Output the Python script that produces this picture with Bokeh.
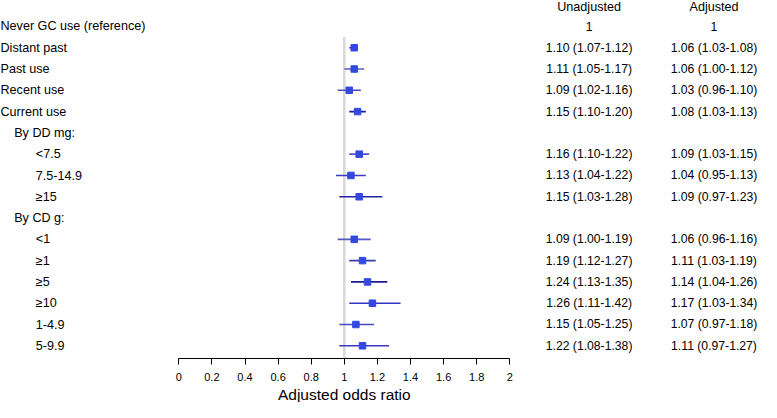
from bokeh.plotting import figure
from bokeh.models import Range1d, FixedTicker, ColumnDataSource, Title
from bokeh.embed import file_html
from bokeh.resources import INLINE
from bokeh.core.properties import value

# ---- data ----
labels = ["Never GC use (reference)", "Distant past", "Past use", "Recent  use", "Current use",
          "By DD mg:", "<7.5", "7.5-14.9", "≥15",
          "By CD g:", "<1", "≥1", "≥5", "≥10", "1-4.9", "5-9.9"]
levels = [0, 0, 0, 0, 0, 1, 2, 2, 2, 1, 2, 2, 2, 2, 2, 2]

# estimate rows (index into labels)
est_rows = [1, 2, 3, 4, 6, 7, 8, 10, 11, 12, 13, 14, 15]
unadj_or = [1.10, 1.11, 1.09, 1.15, 1.16, 1.13, 1.15, 1.09, 1.19, 1.24, 1.26, 1.15, 1.22]
unadj_lo = [1.07, 1.05, 1.02, 1.10, 1.10, 1.04, 1.03, 1.00, 1.12, 1.13, 1.11, 1.05, 1.08]
unadj_hi = [1.12, 1.17, 1.16, 1.20, 1.22, 1.22, 1.28, 1.19, 1.27, 1.35, 1.42, 1.25, 1.38]
adj_or = [1.06, 1.06, 1.03, 1.08, 1.09, 1.04, 1.09, 1.06, 1.11, 1.14, 1.17, 1.07, 1.11]
adj_lo = [1.03, 1.00, 0.96, 1.03, 1.03, 0.95, 0.97, 0.96, 1.03, 1.04, 1.03, 0.97, 0.97]
adj_hi = [1.08, 1.12, 1.10, 1.13, 1.15, 1.13, 1.23, 1.16, 1.19, 1.26, 1.34, 1.18, 1.27]
ref_row = 0
ref_value = 1

tick_values = [0, 0.2, 0.4, 0.6, 0.8, 1, 1.2, 1.4, 1.6, 1.8, 2]
tick_labels = ["0", "0.2", "0.4", "0.6", "0.8", "1", "1.2", "1.4", "1.6", "1.8", "2"]
x_title = "Adjusted odds ratio"

# ---- style ----
ci_colors = ["#3a3ad0", "#5f5fb8", "#4a4ac8", "#1c1c9c", "#5656c4", "#3c3cc0", "#22229e",
             "#5858c0", "#3a3ab4", "#1c1c96", "#3434c4", "#4848c4", "#3838c0"]
FONT = "Liberation Sans"
W, H = 761, 402
ZERO_PX = 178.3
PX_PER_UNIT = (509.3 - 178.3) / 2.0
ROW0_PX = 26.0
ROW_STEP = 21.35
AXIS_H = 43
FRAME_H = H - AXIS_H
TITLE_FS = 15.5
TITLE_W = 8.56 * TITLE_FS  # approx. text width in px


def px_to_x(px):
    return (px - ZERO_PX) / PX_PER_UNIT


def px_to_row(py):
    return (py - ROW0_PX) / ROW_STEP


p = figure(width=W, height=H, output_backend="svg", toolbar_location=None,
           x_range=Range1d(px_to_x(0), px_to_x(W)),
           y_range=Range1d(px_to_row(FRAME_H), px_to_row(0)),
           min_border_left=0, min_border_right=0, min_border_top=0,
           min_border_bottom=AXIS_H)
p.outline_line_color = None
p.xgrid.visible = False
p.ygrid.visible = False
p.yaxis.visible = False
p.background_fill_color = "white"
p.border_fill_color = "white"

# reference line at OR = 1
p.segment(x0=[ref_value], y0=[ref_row + 0.49], x1=[ref_value], y1=[px_to_row(FRAME_H) + 1],
          line_color="#d8d8d8", line_width=2.5)

# CIs and points
src = ColumnDataSource(dict(y=est_rows, orv=adj_or, lo=adj_lo, hi=adj_hi, c=ci_colors))
p.segment(x0="lo", y0="y", x1="hi", y1="y", line_color="c", line_width=1.6, source=src)
p.scatter(x="orv", y="y", marker="square", size=6.5, fill_color="#3448e0",
          line_color="#3448e0", source=src)

# left labels
indent_px = {0: 0, 1: 13.7, 2: 35.3}
lab_src = ColumnDataSource(dict(x=[px_to_x(0)] * len(labels), y=list(range(len(labels))),
                                t=labels, off=[indent_px[l] for l in levels]))
p.text(x="x", y="y", text="t", x_offset="off", source=lab_src, text_align="left",
       text_baseline="middle", text_font=value(FONT), text_font_size="12.6px", text_color="black")

# right table
col_u = px_to_x(588.6)
col_a = px_to_x(713.5)
head_y = px_to_row(6.5)
u_txt = ["1"] + [f"{o:.2f} ({l:.2f}-{h:.2f})" for o, l, h in zip(unadj_or, unadj_lo, unadj_hi)]
a_txt = ["1"] + [f"{o:.2f} ({l:.2f}-{h:.2f})" for o, l, h in zip(adj_or, adj_lo, adj_hi)]
ys = [ref_row] + est_rows
tab_src = ColumnDataSource(dict(xu=[col_u] * len(ys), xa=[col_a] * len(ys), y=ys, u=u_txt, a=a_txt))
for xcol, tcol in (("xu", "u"), ("xa", "a")):
    p.text(x=xcol, y="y", text=tcol, source=tab_src, text_align="center", text_baseline="middle",
           text_font=value(FONT), text_font_size="12.2px", text_color="black")
p.text(x=[col_u, col_a], y=[head_y, head_y], text=["Unadjusted", "Adjusted"], text_align="center",
       text_baseline="middle", text_font=value(FONT), text_font_size="12.6px", text_color="black")

# x axis
ax = p.xaxis[0]
ax.bounds = (tick_values[0], tick_values[-1])
ax.ticker = FixedTicker(ticks=tick_values)
ax.major_label_overrides = dict(zip(tick_values, tick_labels))
ax.minor_tick_line_color = None
ax.major_tick_in = 0
ax.major_tick_out = 6
ax.major_tick_line_color = "black"
ax.axis_line_color = "black"
ax.major_label_standoff = 8
ax.major_label_text_font = FONT
ax.major_label_text_font_size = "11px"
ax.major_label_text_color = "black"

# axis title centred under the 0-2 scale (title panel below the axis)
mid_px = ZERO_PX + PX_PER_UNIT * (tick_values[0] + tick_values[-1]) / 2
p.add_layout(Title(text=x_title, align="left", offset=mid_px - TITLE_W / 2, standoff=0,
                   text_font=FONT, text_font_size=f"{TITLE_FS}px", text_font_style="normal",
                   text_color="black", text_line_height=1.0), "below")

open("out.html", "w").write(file_html(p, INLINE))
